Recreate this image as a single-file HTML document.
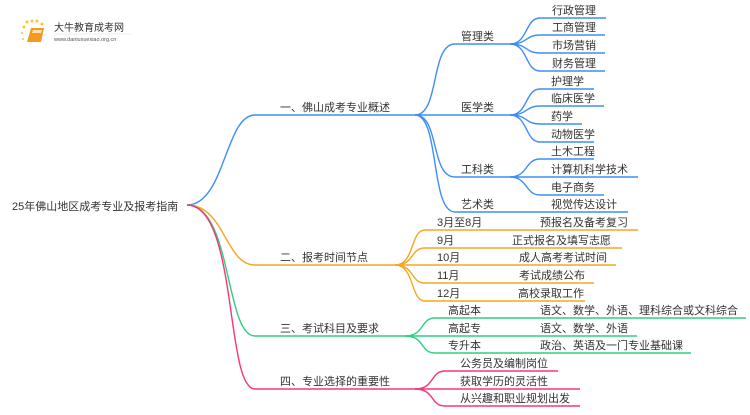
<!DOCTYPE html>
<html><head><meta charset="utf-8"><style>
body{margin:0;background:#fff;width:750px;height:410px;overflow:hidden}
text{font-family:"Liberation Sans","Noto Sans CJK SC",sans-serif;font-size:11px;fill:#333}
</style></head><body>
<svg width="750" height="410" xmlns="http://www.w3.org/2000/svg">
<g>
<circle cx="24" cy="27" r="1.5" fill="#f8c630"/><circle cx="27" cy="22" r="1.5" fill="#f8c630"/><circle cx="32" cy="21" r="1.5" fill="#f8c630"/><circle cx="37" cy="21" r="1.5" fill="#f8c630"/><circle cx="42" cy="24" r="1.5" fill="#f8c630"/><circle cx="22" cy="33" r="1" fill="#f8c630"/><circle cx="23" cy="39" r="1" fill="#f8c630"/>
<path d="M31 28 L44 28 L41 42 L27 42 Z" fill="#f39a1e"/>
<path d="M33 30 L42 30 L41 33 L32 33 Z" fill="#fde2b0"/>
<text x="54" y="31" style="font-size:10px;fill:#333">大牛教育成考网</text>
<line x1="54" y1="34" x2="132" y2="34" stroke="#ddd" stroke-width="0.6"/>
<text x="54" y="41" style="font-size:5.5px;fill:#555">www.daniuxuexiao.org.cn</text>
</g>
<text x="12" y="210">25年佛山地区成考专业及报考指南</text>
<g fill="none" stroke-width="1.4">
<g stroke="#3d8ef5">
<path d="M187 205 C225 205 225 115 255 115 L415 115"/>
<path d="M415 115 C440 115 430 44 455 44 L510 44"/>
<path d="M415 115 L510 115"/>
<path d="M415 115 C440 115 430 177 455 177 L510 177"/>
<path d="M415 115 C440 115 430 212 455 212 L510 212"/>
<path d="M510 44 C528 44 525 18 540 18 L606 18"/>
<path d="M510 44 C528 44 525 35 540 35 L605 35"/>
<path d="M510 44 C528 44 525 53 540 53 L605 53"/>
<path d="M510 44 C528 44 525 71 540 71 L605 71"/>
<path d="M510 115 C528 115 525 89 540 89 L594 89"/>
<path d="M510 115 C528 115 525 106 540 106 L604 106"/>
<path d="M510 115 C528 115 525 124 540 124 L582 124"/>
<path d="M510 115 C528 115 525 142 540 142 L594 142"/>
<path d="M510 177 C528 177 525 159 540 159 L594 159"/>
<path d="M510 177 L638 177"/>
<path d="M510 177 C528 177 525 195 540 195 L604 195"/>
<path d="M510 212 L628 212"/>
</g>
<g stroke="#f5a623">
<path d="M187 205 C225 205 225 265 255 265 L395 265"/>
<path d="M395 265 C415 265 410 230 425 230 L638 230"/>
<path d="M395 265 C415 265 410 248 425 248 L622 248"/>
<path d="M395 265 L616 265"/>
<path d="M395 265 C415 265 410 283 425 283 L594 283"/>
<path d="M395 265 C415 265 410 301 425 301 L585 301"/>
</g>
<g stroke="#2fcf7f">
<path d="M187 205 C232 205 225 336 255 336 L405 336"/>
<path d="M405 336 C425 336 420 318 435 318 L746 318"/>
<path d="M405 336 L637 336"/>
<path d="M405 336 C425 336 420 353 435 353 L691 353"/>
</g>
<g stroke="#f5367a">
<path d="M187 205 C238 205 225 389 255 389 L415 389"/>
<path d="M415 389 C435 389 430 371 445 371 L558 371"/>
<path d="M415 389 L580 389"/>
<path d="M415 389 C435 389 430 406 445 406 L580 406"/>
</g>
</g>
<text x="280" y="111">一、佛山成考专业概述</text>
<text x="461" y="40">管理类</text>
<text x="461" y="111">医学类</text>
<text x="461" y="173">工科类</text>
<text x="461" y="208">艺术类</text>
<text x="552" y="14">行政管理</text>
<text x="552" y="31">工商管理</text>
<text x="552" y="49">市场营销</text>
<text x="552" y="67">财务管理</text>
<text x="551" y="85">护理学</text>
<text x="551" y="102">临床医学</text>
<text x="551" y="120">药学</text>
<text x="551" y="138">动物医学</text>
<text x="551" y="155">土木工程</text>
<text x="551" y="173">计算机科学技术</text>
<text x="551" y="191">电子商务</text>
<text x="551" y="208">视觉传达设计</text>
<text x="280" y="261">二、报考时间节点</text>
<text x="437" y="226">3月至8月</text><text x="540" y="226">预报名及备考复习</text>
<text x="437" y="244">9月</text><text x="512" y="244">正式报名及填写志愿</text>
<text x="437" y="261">10月</text><text x="519" y="261">成人高考考试时间</text>
<text x="437" y="279">11月</text><text x="519" y="279">考试成绩公布</text>
<text x="437" y="297">12月</text><text x="518" y="297">高校录取工作</text>
<text x="280" y="332">三、考试科目及要求</text>
<text x="448" y="314">高起本</text><text x="540" y="314">语文、数学、外语、理科综合或文科综合</text>
<text x="448" y="332">高起专</text><text x="540" y="332">语文、数学、外语</text>
<text x="448" y="349">专升本</text><text x="540" y="349">政治、英语及一门专业基础课</text>
<text x="280" y="385">四、专业选择的重要性</text>
<text x="460" y="367">公务员及编制岗位</text>
<text x="460" y="385">获取学历的灵活性</text>
<text x="460" y="402">从兴趣和职业规划出发</text>
</svg>
</body></html>
